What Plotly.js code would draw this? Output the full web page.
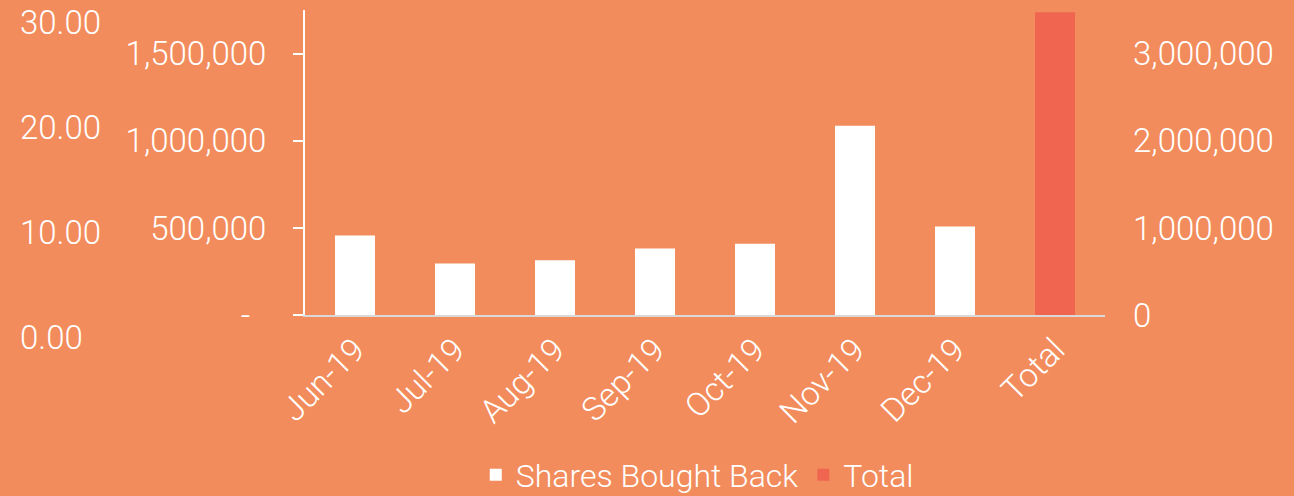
<!DOCTYPE html>
<html><head><meta charset="utf-8">
<script src="https://cdn.plot.ly/plotly-3.0.1.min.js"></script>
<style>html,body{margin:0;padding:0;background:#F28C5C;}#chart{width:1294px;height:496px;}</style>
</head><body><div id="chart"></div>
<script>
const months = ['Jun-19','Jul-19','Aug-19','Sep-19','Oct-19','Nov-19','Dec-19'];
const sharesBoughtBack = [458000, 297000, 316000, 383000, 410000, 1087000, 509000];
const totalLabel = ['Total'];
const totalValue = [3475000];
const leftTicks = [0, 500000, 1000000, 1500000];
const leftTickText = ['-\u00a0\u00a0', '500,000', '1,000,000', '1,500,000'];
const rightTicks = [0, 1000000, 2000000, 3000000];
const rightTickText = ['0', '1,000,000', '2,000,000', '3,000,000'];
const farLeftTicks = [0, 10, 20, 30];
const farLeftTickText = ['0.00', '10.00', '20.00', '30.00'];

const FS = 33;
const fam = 'Roboto, Arial, sans-serif';
const tf = {size: FS, color: '#FFFFFF', family: fam, weight: 300};
const W = 1105, plotBottom = 345, plotTop = 10, H = plotBottom - plotTop;
const base = 315.3;

const traces = [
  {type: 'bar', name: 'Shares Bought Back', x: months, y: sharesBoughtBack,
   marker: {color: '#FFFFFF'}, width: 0.4, xaxis: 'x', yaxis: 'y', hoverinfo: 'none'},
  {type: 'bar', name: 'Total', x: totalLabel, y: totalValue,
   marker: {color: '#EF6550'}, width: 0.4, xaxis: 'x', yaxis: 'y2', hoverinfo: 'none'},
  {type: 'scatter', x: [], y: [], xaxis: 'x', yaxis: 'y3', showlegend: false, hoverinfo: 'none'}
];

const layout = {
  width: 1294, height: 496,
  paper_bgcolor: '#F28C5C', plot_bgcolor: 'rgba(0,0,0,0)',
  font: {family: fam, color: '#FFFFFF', size: FS, weight: 300},
  margin: {l: 0, r: 1294 - W, t: plotTop, b: 496 - plotBottom, pad: 0, autoexpand: false},
  barmode: 'overlay',
  showlegend: true,
  legend: {orientation: 'h', x: 0.631, xanchor: 'center', xref: 'paper',
           yref: 'container', y: 1 - 475 / 496, yanchor: 'middle',
           font: {size: 32, color: '#FFFFFF', family: fam, weight: 300},
           bgcolor: 'rgba(0,0,0,0)', itemwidth: 30, tracegroupgap: 0},
  xaxis: {domain: [305 / W, 1], anchor: 'y', type: 'category', automargin: false,
          categoryorder: 'array', categoryarray: months.concat(totalLabel),
          showline: true, linecolor: '#D9D9D9', linewidth: 2, ticks: '', showgrid: false,
          zeroline: false, tickangle: -45, tickfont: tf},
  yaxis: {domain: [(plotBottom - base) / H, 1], anchor: 'x', range: [0, 1750000], automargin: false,
          tickvals: leftTicks, ticktext: leftTickText, showgrid: false, zeroline: false,
          showline: true, linecolor: '#FFFFFF', linewidth: 2, ticks: 'outside', ticklen: 10,
          tickcolor: '#FFFFFF', tickwidth: 2, ticklabelstandoff: 20, tickfont: tf},
  yaxis2: {domain: [(plotBottom - base) / H, 1], anchor: 'x', overlaying: 'y', side: 'right',
           range: [0, 3500000], tickvals: rightTicks, ticktext: rightTickText, automargin: false,
           showgrid: false, zeroline: false, showline: false, ticks: '', ticklabelstandoff: 27,
           tickfont: tf},
  yaxis3: {domain: [0, 1], anchor: 'free', position: 0, side: 'right', automargin: false,
           range: [-(plotBottom - 337) * 30 / 315, 30 + (22 - plotTop) * 30 / 315],
           tickvals: farLeftTicks, ticktext: farLeftTickText,
           showgrid: false, zeroline: false, showline: false, ticks: '', ticklabelstandoff: 19,
           tickfont: tf}
};

Plotly.newPlot('chart', traces, layout, {staticPlot: true, displayModeBar: false});
</script>
</body></html>
